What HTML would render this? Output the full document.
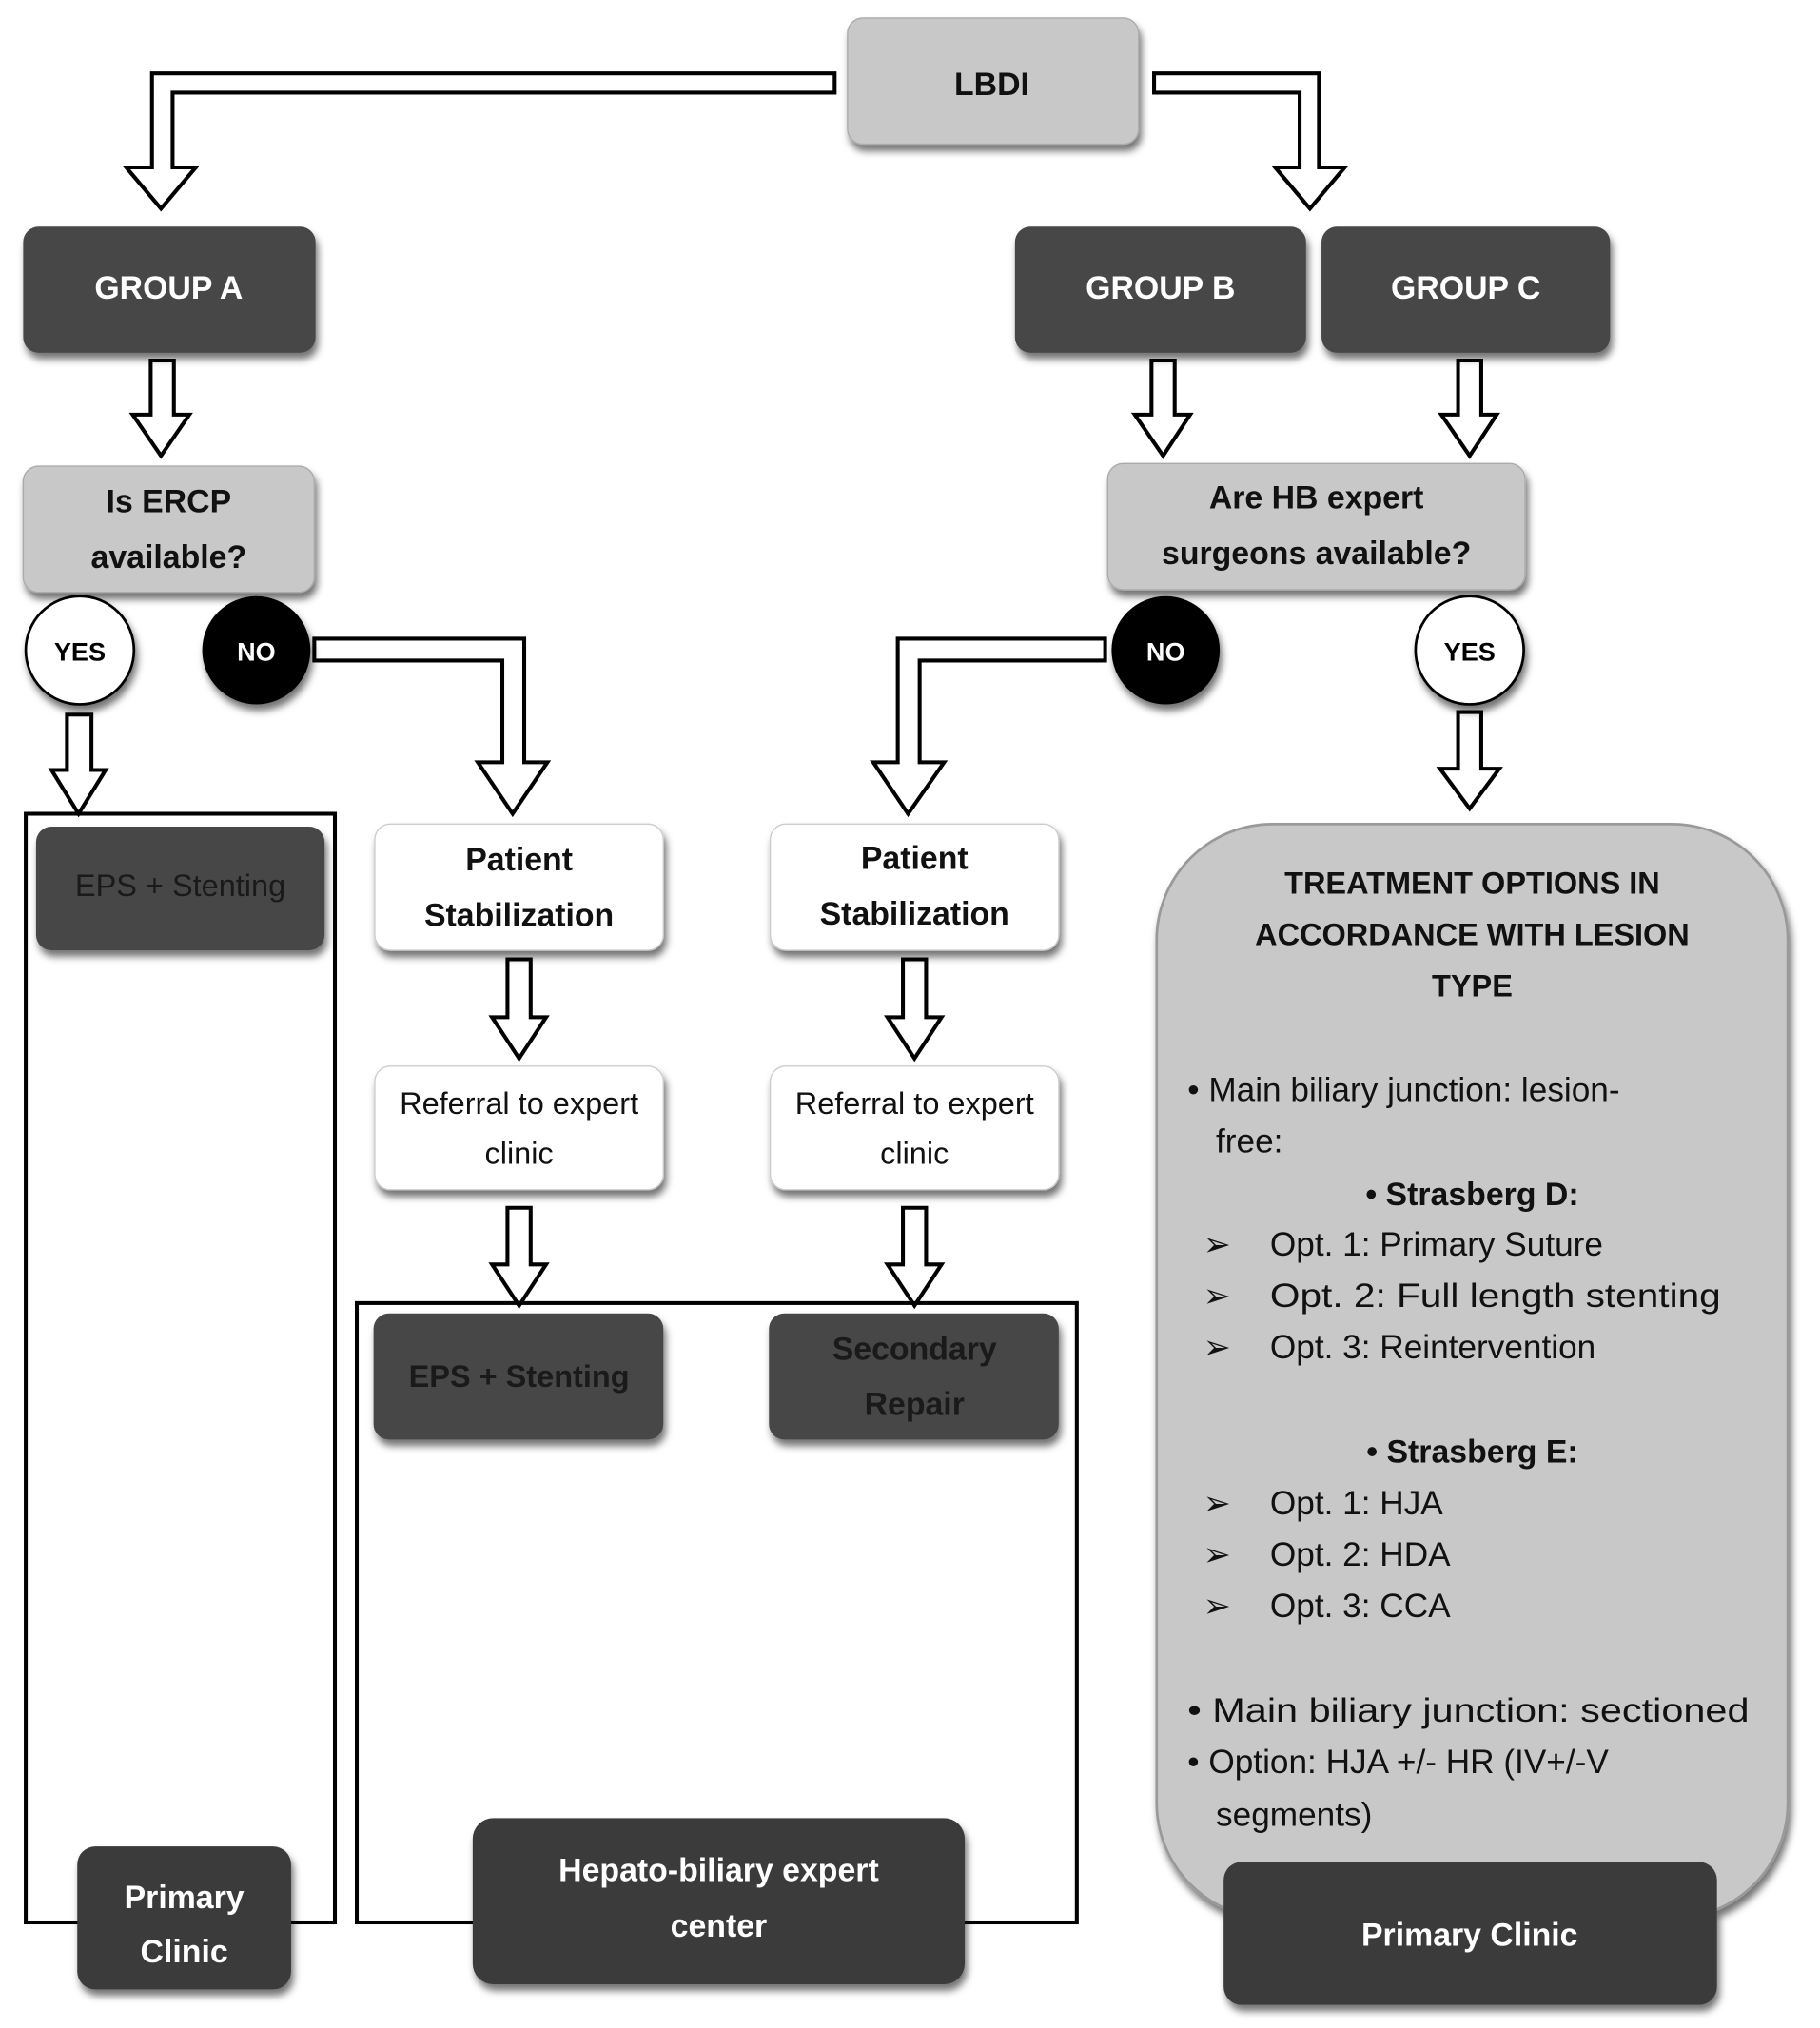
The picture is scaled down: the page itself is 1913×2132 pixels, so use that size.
<!DOCTYPE html>
<html><head><meta charset="utf-8"><style>
html,body{margin:0;padding:0;background:#fff;}
svg{display:block;}
text{font-family:"Liberation Sans",sans-serif;}
</style></head><body>
<svg width="1913" height="2132" viewBox="0 0 1413 1575" preserveAspectRatio="none" xmlns="http://www.w3.org/2000/svg">
<defs>
<filter id="sh" x="-10%" y="-10%" width="130%" height="140%"><feDropShadow dx="2" dy="5" stdDeviation="3" flood-color="#000" flood-opacity="0.55"/></filter>
</defs>
<g fill="#fff" stroke="#000" stroke-width="3" stroke-linejoin="miter">
<polygon points="648,57 118,57 118,130 98,130 125,162 152,130 134,130 134,72 648,72"/>
<polygon points="896,57 1024,57 1024,130 1044,130 1017,162 990,130 1009,130 1009,72 896,72"/>
<polygon points="117,280 135,280 135,322 147,322 125,354 103,322 117,322"/>
<polygon points="894,280 912,280 912,322 924,322 903,354 881,322 894,322"/>
<polygon points="1132,280 1150,280 1150,322 1162,322 1141,354 1119,322 1132,322"/>
<polygon points="244,496 407,496 407,592 425,592 398,632 371,592 390,592 390,513 244,513"/>
<polygon points="858,496 697,496 697,592 678,592 705,632 733,592 714,592 714,513 858,513"/>
<polygon points="52,555 71,555 71,598 82,598 61,632 40,598 52,598"/>
<polygon points="1132,553 1150,553 1150,597 1164,597 1141,628 1118,597 1132,597"/>
<polygon points="394,745 412,745 412,790 424,790 403,822 382,790 394,790"/>
<polygon points="701,745 719,745 719,790 731,790 710,822 689,790 701,790"/>
<polygon points="394,938 412,938 412,982 424,982 403,1014 382,982 394,982"/>
<polygon points="701,938 719,938 719,982 731,982 710,1014 689,982 701,982"/>
</g>
<rect x="20" y="632" width="240" height="861" fill="none" stroke="#000" stroke-width="3"/>
<rect x="277" y="1012" width="559" height="481" fill="none" stroke="#000" stroke-width="3"/>
<g filter="url(#sh)">
<rect x="658" y="14" width="226" height="98" rx="12" fill="#c8c8c8" stroke="#aaa"/>
<rect x="18" y="176" width="227" height="98" rx="12" fill="#474747"/>
<rect x="788" y="176" width="226" height="98" rx="12" fill="#474747"/>
<rect x="1026" y="176" width="224" height="98" rx="12" fill="#474747"/>
<rect x="18" y="362" width="226" height="98" rx="12" fill="#c8c8c8" stroke="#aaa"/>
<rect x="860" y="360" width="324" height="98" rx="12" fill="#c8c8c8" stroke="#aaa"/>
<circle cx="62" cy="505" r="42" fill="#fff" stroke="#000" stroke-width="2"/>
<circle cx="199" cy="505" r="42" fill="#000"/>
<circle cx="905" cy="505" r="42" fill="#000"/>
<circle cx="1141" cy="505" r="42" fill="#fff" stroke="#000" stroke-width="2"/>
<rect x="28" y="642" width="224" height="96" rx="12" fill="#474747"/>
<rect x="291" y="640" width="224" height="98" rx="12" fill="#fff" stroke="#ccc"/>
<rect x="598" y="640" width="224" height="98" rx="12" fill="#fff" stroke="#ccc"/>
<rect x="291" y="828" width="224" height="96" rx="12" fill="#fff" stroke="#ccc"/>
<rect x="598" y="828" width="224" height="96" rx="12" fill="#fff" stroke="#ccc"/>
<rect x="290" y="1020" width="225" height="98" rx="12" fill="#474747"/>
<rect x="597" y="1020" width="225" height="98" rx="12" fill="#474747"/>
<rect x="898" y="640" width="490" height="850" rx="90" fill="#c8c8c8" stroke="#999" stroke-width="2"/>
<rect x="60" y="1434" width="166" height="111" rx="14" fill="#3a3a3a"/>
<rect x="367" y="1412" width="382" height="129" rx="16" fill="#3a3a3a"/>
<rect x="950" y="1446" width="383" height="111" rx="14" fill="#3a3a3a"/>
</g>
<g font-weight="bold" text-anchor="middle" font-size="25">
<text x="770" y="74" fill="#111">LBDI</text>
<text x="131" y="232" fill="#fff">GROUP A</text>
<text x="901" y="232" fill="#fff">GROUP B</text>
<text x="1138" y="232" fill="#fff">GROUP C</text>
<text x="131" y="398" fill="#111">Is ERCP</text>
<text x="131" y="441" fill="#111">available?</text>
<text x="1022" y="395" fill="#111">Are HB expert</text>
<text x="1022" y="438" fill="#111">surgeons available?</text>
<text x="62" y="513" fill="#000" font-size="20">YES</text>
<text x="199" y="513" fill="#fff" font-size="20">NO</text>
<text x="905" y="513" fill="#fff" font-size="20">NO</text>
<text x="1141" y="513" fill="#000" font-size="20">YES</text>
<text x="140" y="696" fill="#1a1a1a" font-size="24" font-weight="normal">EPS + Stenting</text>
<text x="403" y="676" fill="#111">Patient</text>
<text x="403" y="719" fill="#111">Stabilization</text>
<text x="710" y="675" fill="#111">Patient</text>
<text x="710" y="718" fill="#111">Stabilization</text>
<text x="403" y="865" fill="#111" font-weight="normal" font-size="24">Referral to expert</text>
<text x="403" y="904" fill="#111" font-weight="normal" font-size="24">clinic</text>
<text x="710" y="865" fill="#111" font-weight="normal" font-size="24">Referral to expert</text>
<text x="710" y="904" fill="#111" font-weight="normal" font-size="24">clinic</text>
<text x="403" y="1077" fill="#1a1a1a" font-size="24">EPS + Stenting</text>
<text x="710" y="1056" fill="#1a1a1a">Secondary</text>
<text x="710" y="1099" fill="#1a1a1a">Repair</text>
<text x="143" y="1482" fill="#fff">Primary</text>
<text x="143" y="1524" fill="#fff">Clinic</text>
<text x="558" y="1461" fill="#fff">Hepato-biliary expert</text>
<text x="558" y="1504" fill="#fff">center</text>
<text x="1141" y="1511" fill="#fff">Primary Clinic</text>
<text x="1143" y="694" fill="#111" font-size="24">TREATMENT OPTIONS IN</text>
<text x="1143" y="734" fill="#111" font-size="24">ACCORDANCE WITH LESION</text>
<text x="1143" y="774" fill="#111" font-size="24">TYPE</text>
<text x="1143" y="936" fill="#111" font-size="25">• Strasberg D:</text>
<text x="1143" y="1136" fill="#111" font-size="25">• Strasberg E:</text>
</g>
<g font-size="26" fill="#111">
<text x="922" y="855">• Main biliary junction: lesion-</text>
<text x="944" y="895">free:</text>
<text x="934" y="975">➢</text><text x="986" y="975">Opt. 1: Primary Suture</text>
<text x="934" y="1015">➢</text><text x="986" y="1015" textLength="350" lengthAdjust="spacingAndGlyphs">Opt. 2: Full length stenting</text>
<text x="934" y="1055">➢</text><text x="986" y="1055">Opt. 3: Reintervention</text>
<text x="934" y="1176">➢</text><text x="986" y="1176">Opt. 1: HJA</text>
<text x="934" y="1216">➢</text><text x="986" y="1216">Opt. 2: HDA</text>
<text x="934" y="1256">➢</text><text x="986" y="1256">Opt. 3: CCA</text>
<text x="922" y="1337" textLength="436" lengthAdjust="spacingAndGlyphs">• Main biliary junction: sectioned</text>
<text x="922" y="1377">• Option: HJA +/- HR (IV+/-V</text>
<text x="944" y="1418">segments)</text>
</g>
</svg>
</body></html>
